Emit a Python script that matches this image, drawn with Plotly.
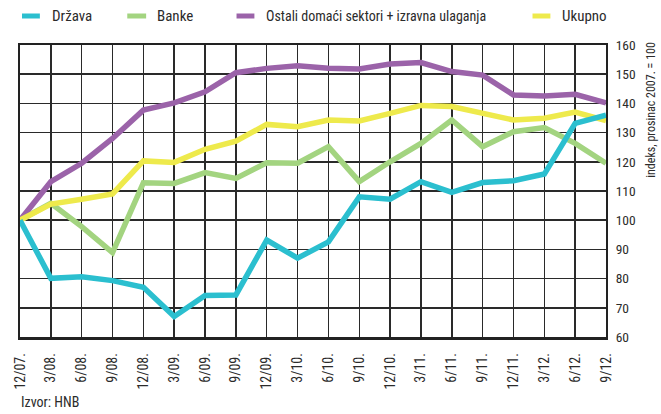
import plotly.graph_objects as go

categories = ["12/07.", "3/08.", "6/08.", "9/08.", "12/08.", "3/09.", "6/09.", "9/09.",
              "12/09.", "3/10.", "6/10.", "9/10.", "12/10.", "3/11.", "6/11.", "9/11.",
              "12/11.", "3/12.", "6/12.", "9/12."]
drzava = [100, 80.1, 80.6, 79.3, 77.0, 67.0, 74.2, 74.4, 93.2, 87.0, 92.6, 108.0,
          107.2, 113.2, 109.5, 112.9, 113.5, 115.8, 133.2, 136.0]
banke = [100, 105.8, 97.8, 88.9, 112.8, 112.6, 116.3, 114.3, 119.7, 119.5, 125.2, 113.2,
         120.0, 126.3, 134.3, 125.2, 130.3, 131.7, 126.3, 119.5]
ostali = [100, 113.2, 119.5, 128.0, 137.7, 140.2, 144.0, 150.5, 152.0, 152.9, 152.0, 151.8,
          153.5, 154.0, 150.9, 149.7, 142.9, 142.5, 143.1, 140.2]
ukupno = [100, 105.5, 107.2, 109.0, 120.3, 119.8, 124.3, 127.1, 132.8, 132.0, 134.3, 134.0,
          136.6, 139.3, 138.9, 136.6, 134.3, 134.9, 137.0, 134.1]
series_names = ["Država", "Banke", "Ostali domaći sektori + izravna ulaganja", "Ukupno"]
y_ticks = [60, 70, 80, 90, 100, 110, 120, 130, 140, 150, 160]
y_title = "indeks, prosinac 2007. = 100"
source = "Izvor: HNB"

colors = {"Država": "#2bbfcf", "Banke": "#a3d480", "Ostali domaći sektori + izravna ulaganja": "#9b63a9",
          "Ukupno": "#eeea4c"}
values = {"Država": drzava, "Banke": banke,
          "Ostali domaći sektori + izravna ulaganja": ostali, "Ukupno": ukupno}

FONT = "Roboto Condensed, DejaVu Sans Condensed, sans-serif"
TXT = "#2b2b2b"
W, H = 661, 414
L, R, T, B = 16, 606, 45, 337


def px(xp):
    return (xp - L) / (R - L)


def py(yp):
    return (B - yp) / (B - T)


fig = go.Figure()
for name in ["Banke", "Ostali domaći sektori + izravna ulaganja", "Ukupno", "Država"]:
    fig.add_trace(go.Scatter(x=categories, y=values[name], mode="lines", name=name,
                             line=dict(color=colors[name], width=5.5), showlegend=False,
                             hoverinfo="skip"))

# manual legend
leg_line = [(18, 36), (124, 143), (234, 252), (532, 550)]
leg_text = [46, 152, 262, 560]
leg_size = [15, 15, 14, 15]
ly = 16
for name, (x0, x1), xt, fs in zip(series_names, leg_line, leg_text, leg_size):
    fig.add_shape(type="line", xref="paper", yref="paper", x0=px(x0), x1=px(x1),
                  y0=py(ly), y1=py(ly), line=dict(color=colors[name], width=5))
    fig.add_annotation(text=name, xref="paper", yref="paper", x=px(xt), y=py(ly),
                       xanchor="left", yanchor="middle", showarrow=False,
                       font=dict(family=FONT, size=fs, color=TXT))

fig.add_annotation(text=y_title, xref="paper", yref="paper", x=px(651), y=py(40),
                   xanchor="center", yanchor="top", textangle=-90, showarrow=False,
                   font=dict(family=FONT, size=12, color=TXT))
fig.add_annotation(text=source, xref="paper", yref="paper", x=px(15), y=py(402),
                   xanchor="left", yanchor="middle", showarrow=False,
                   font=dict(family=FONT, size=14, color=TXT))

fig.update_layout(
    width=W, height=H,
    margin=dict(l=L, r=W - R, t=T, b=H - B),
    paper_bgcolor="white", plot_bgcolor="white",
    font=dict(family=FONT, size=14, color=TXT),
    hovermode=False,
    xaxis=dict(type="category", range=[0, len(categories) - 1], tickangle=-90,
               showgrid=True, gridcolor="#2a2a2a", gridwidth=1.5,
               showline=True, linecolor="#222", linewidth=2.5, mirror=True,
               ticks="", ticklabelstandoff=8,
               tickfont=dict(family=FONT, size=14, color=TXT), zeroline=False),
    yaxis=dict(range=[60, 160], tickvals=y_ticks, side="right",
               showgrid=True, gridcolor="#2a2a2a", gridwidth=1.5,
               showline=True, linecolor="#222", linewidth=2, mirror=True,
               ticks="", ticklabelstandoff=5,
               tickfont=dict(family=FONT, size=13.5, color=TXT), zeroline=False),
)

fig.write_html("out.html", config={"displayModeBar": False, "staticPlot": True},
               post_script="document.body.style.margin='0';document.body.style.overflow='hidden';")
